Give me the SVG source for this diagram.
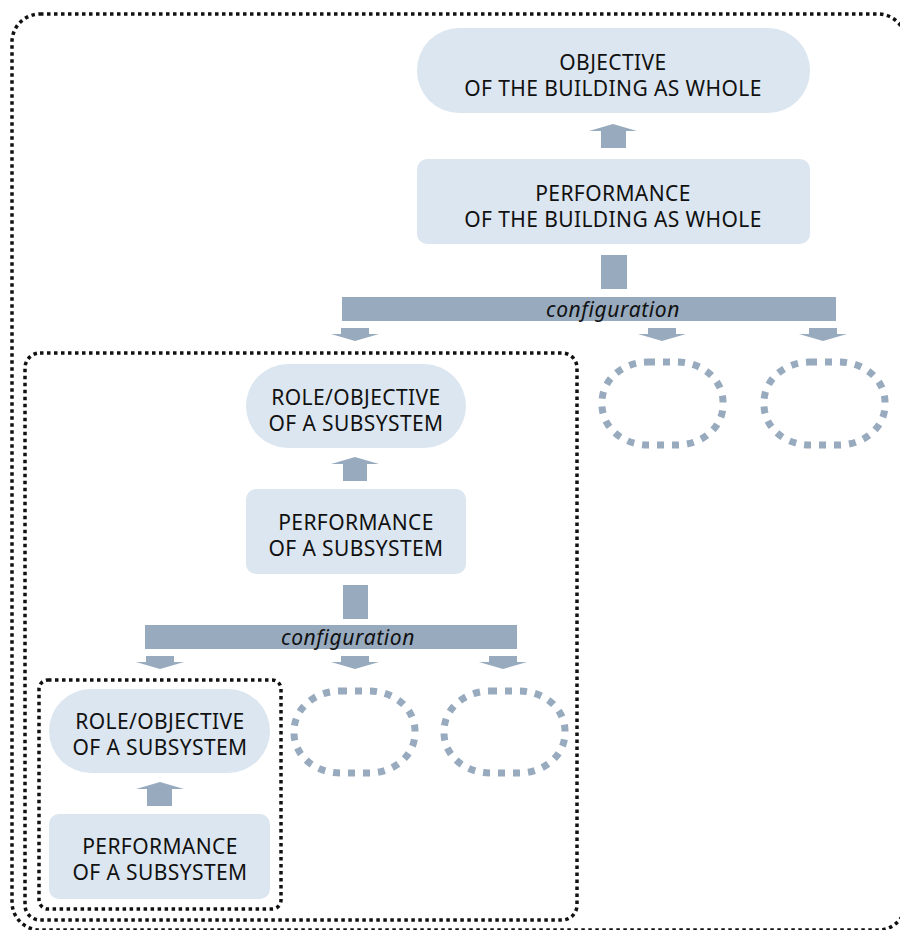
<svg xmlns="http://www.w3.org/2000/svg" width="900" height="930" viewBox="0 0 900 930">
  <style>
    .node { fill: #dce6f0; }
    .flow { fill: #97aabe; }
    .frame { fill: none; stroke: #111; stroke-width: 3.5; stroke-dasharray: 3.5 3.5; }
    .ghost { fill: none; stroke: #97aabe; stroke-width: 7; stroke-dasharray: 7 8; }
    .label { font-family: "Noto Sans", "Liberation Sans", sans-serif; font-size: 21px; letter-spacing: 0.4px; fill: #111; text-anchor: middle; }
    .cfg { font-family: "Noto Sans", "Liberation Sans", sans-serif; font-size: 21px; letter-spacing: 0.6px; font-style: italic; fill: #111; text-anchor: middle; }
  </style>

  <!-- system boundaries -->
  <g id="frames">
    <rect class="frame" x="12" y="14" width="894" height="916" rx="28"/>
    <rect class="frame" x="25" y="353" width="552" height="567" rx="15"/>
    <rect class="frame" x="39" y="680" width="242" height="229" rx="9"/>
  </g>

  <!-- building level -->
  <g id="objective-building">
    <rect class="node" x="417" y="28" width="393" height="85" rx="42"/>
    <text class="label" x="613" y="70">OBJECTIVE</text>
    <text class="label" x="613" y="96">OF THE BUILDING AS WHOLE</text>
  </g>
  <g id="performance-building">
    <rect class="node" x="417" y="159" width="393" height="85" rx="10"/>
    <text class="label" x="613" y="201">PERFORMANCE</text>
    <text class="label" x="613" y="227">OF THE BUILDING AS WHOLE</text>
  </g>
  <g id="placeholder-a">
    <rect class="ghost" x="602" y="362" width="121" height="83" rx="46" ry="40"/>
  </g>
  <g id="placeholder-b">
    <rect class="ghost" x="764" y="362" width="121" height="83" rx="46" ry="40"/>
  </g>

  <!-- subsystem level -->
  <g id="objective-subsystem">
    <rect class="node" x="246" y="364" width="220" height="84" rx="42"/>
    <text class="label" x="356" y="405">ROLE/OBJECTIVE</text>
    <text class="label" x="356" y="431">OF A SUBSYSTEM</text>
  </g>
  <g id="performance-subsystem">
    <rect class="node" x="246" y="489" width="220" height="85" rx="10"/>
    <text class="label" x="356" y="530">PERFORMANCE</text>
    <text class="label" x="356" y="556">OF A SUBSYSTEM</text>
  </g>
  <g id="placeholder-c">
    <rect class="ghost" x="294" y="691" width="121" height="82" rx="46" ry="40"/>
  </g>
  <g id="placeholder-d">
    <rect class="ghost" x="444" y="691" width="121" height="82" rx="46" ry="40"/>
  </g>

  <!-- sub-subsystem level -->
  <g id="objective-subsubsystem">
    <rect class="node" x="49" y="689" width="221" height="84" rx="42"/>
    <text class="label" x="160" y="729">ROLE/OBJECTIVE</text>
    <text class="label" x="160" y="755">OF A SUBSYSTEM</text>
  </g>
  <g id="performance-subsubsystem">
    <rect class="node" x="49" y="814" width="221" height="85" rx="10"/>
    <text class="label" x="160" y="854">PERFORMANCE</text>
    <text class="label" x="160" y="880">OF A SUBSYSTEM</text>
  </g>

  <!-- connectors: up arrows, shafts, configuration bars, down arrows -->
  <g id="connectors">
    <polygon class="flow" points="601,148 601,131 589,131 613,124 637,131 626,131 626,148"/>
    <rect class="flow" x="601" y="255" width="26" height="34"/>
    <rect class="flow" x="342" y="297" width="494" height="24"/>
    <text class="cfg" x="613" y="317">configuration</text>
    <polygon class="flow" points="341,328 369,328 369,334 379,334 355,341 331,334 341,334"/>
    <polygon class="flow" points="648,328 676,328 676,334 686,334 662,341 638,334 648,334"/>
    <polygon class="flow" points="809,328 837,328 837,334 847,334 823,341 799,334 809,334"/>

    <polygon class="flow" points="343,481 343,464 331,464 355,457 379,464 367,464 367,481"/>
    <rect class="flow" x="343" y="585" width="25" height="34"/>
    <rect class="flow" x="145" y="625" width="372" height="24"/>
    <text class="cfg" x="348" y="645">configuration</text>
    <polygon class="flow" points="146,656 174,656 174,662 184,662 160,669 136,662 146,662"/>
    <polygon class="flow" points="341,656 369,656 369,662 379,662 355,669 331,662 341,662"/>
    <polygon class="flow" points="489,656 517,656 517,662 527,662 503,669 479,662 489,662"/>

    <polygon class="flow" points="147,806 147,789 136,789 160,782 184,789 172,789 172,806"/>
  </g>
</svg>
